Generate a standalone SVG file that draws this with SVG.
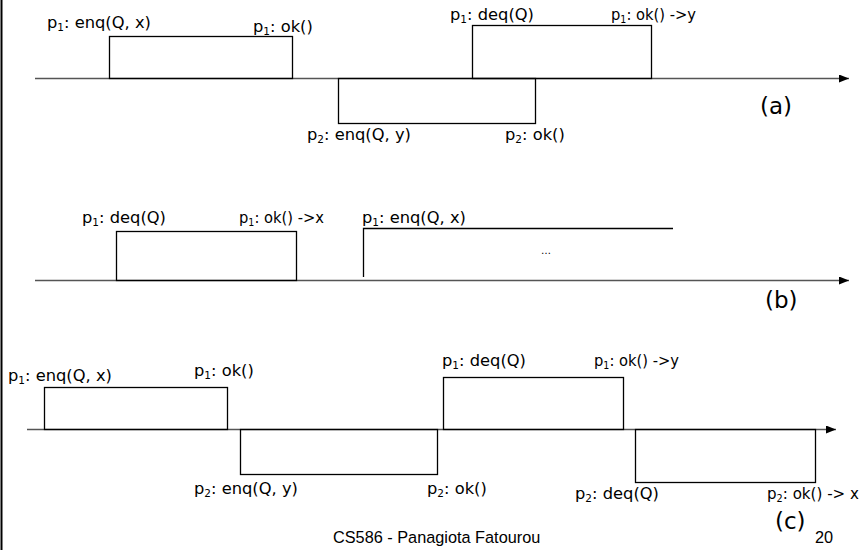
<svg xmlns="http://www.w3.org/2000/svg" width="864" height="550" viewBox="0 0 864 550">
<style>
.lbl{font-family:"DejaVu Sans","Noto Sans",sans-serif;font-size:16.3px;fill:#000}
.sub{font-size:10.5px}
.tag{font-family:"DejaVu Sans","Noto Sans",sans-serif;font-size:23px;fill:#000}
.foot{font-family:"Liberation Sans",Arial,sans-serif;font-size:16.3px;fill:#000}
.box{fill:none;stroke:#000;stroke-width:1.3}
.axis{stroke:#555;stroke-width:1.6;fill:none}
</style>
<defs>
<marker id="arr" viewBox="0 0 10 8" refX="10" refY="4" markerWidth="10" markerHeight="8" markerUnits="userSpaceOnUse" orient="auto">
<path d="M0,0 L10,4 L0,8 Z" fill="#000"/>
</marker>
</defs>
<rect x="0" y="0" width="864" height="550" fill="#fff"/>
<line x1="1.5" y1="0" x2="1.5" y2="550" stroke="#000" stroke-width="2"/>
<g id="connectors">
<line class="axis" x1="35" y1="78.5" x2="849" y2="78.5" marker-end="url(#arr)"/>
<line class="axis" x1="35" y1="280.5" x2="849" y2="280.5" marker-end="url(#arr)"/>
<line class="axis" x1="27" y1="429.5" x2="836" y2="429.5" marker-end="url(#arr)"/>
</g>
<g id="a">
<g id="a-box1"><rect class="box" x="109.5" y="36.5" width="183" height="42"/>
<text class="lbl" x="47" y="28">p<tspan class="sub" dy="3">1</tspan><tspan dy="-3">: enq(Q, x)</tspan></text>
<text class="lbl" x="253" y="32">p<tspan class="sub" dy="3">1</tspan><tspan dy="-3">: ok()</tspan></text></g>
<g id="a-box2"><rect class="box" x="338.5" y="78.5" width="197" height="45"/>
<text class="lbl" x="307" y="140">p<tspan class="sub" dy="3">2</tspan><tspan dy="-3">: enq(Q, y)</tspan></text>
<text class="lbl" x="505" y="140">p<tspan class="sub" dy="3">2</tspan><tspan dy="-3">: ok()</tspan></text></g>
<g id="a-box3"><rect class="box" x="472.5" y="25.5" width="179" height="53"/>
<text class="lbl" x="450" y="20">p<tspan class="sub" dy="3">1</tspan><tspan dy="-3">: deq(Q)</tspan></text>
<text class="lbl" x="611" y="20" textLength="85" lengthAdjust="spacingAndGlyphs">p<tspan class="sub" dy="3">1</tspan><tspan dy="-3">: ok() -&gt;y</tspan></text></g>
<text class="tag" x="760" y="114">(a)</text>
</g>
<g id="b">
<g id="b-box1"><rect class="box" x="116.5" y="231.5" width="180" height="49"/>
<text class="lbl" x="82" y="223">p<tspan class="sub" dy="3">1</tspan><tspan dy="-3">: deq(Q)</tspan></text>
<text class="lbl" x="239" y="223" textLength="85" lengthAdjust="spacingAndGlyphs">p<tspan class="sub" dy="3">1</tspan><tspan dy="-3">: ok() -&gt;x</tspan></text></g>
<g id="b-box2"><path class="box" d="M363.5,277 V228.5 H673"/>
<text class="lbl" x="362" y="223">p<tspan class="sub" dy="3">1</tspan><tspan dy="-3">: enq(Q, x)</tspan></text>
<text class="lbl" x="541" y="254" style="font-size:10px">…</text></g>
<text class="tag" x="765" y="308">(b)</text>
</g>
<g id="c">
<g id="c-box1"><rect class="box" x="44.5" y="387.5" width="183" height="42"/>
<text class="lbl" x="8" y="381">p<tspan class="sub" dy="3">1</tspan><tspan dy="-3">: enq(Q, x)</tspan></text>
<text class="lbl" x="194" y="376">p<tspan class="sub" dy="3">1</tspan><tspan dy="-3">: ok()</tspan></text></g>
<g id="c-box2"><rect class="box" x="240.5" y="429.5" width="197" height="45"/>
<text class="lbl" x="194" y="494">p<tspan class="sub" dy="3">2</tspan><tspan dy="-3">: enq(Q, y)</tspan></text>
<text class="lbl" x="427" y="494">p<tspan class="sub" dy="3">2</tspan><tspan dy="-3">: ok()</tspan></text></g>
<g id="c-box3"><rect class="box" x="443.5" y="377.5" width="180" height="52"/>
<text class="lbl" x="442" y="366">p<tspan class="sub" dy="3">1</tspan><tspan dy="-3">: deq(Q)</tspan></text>
<text class="lbl" x="594" y="366" textLength="85" lengthAdjust="spacingAndGlyphs">p<tspan class="sub" dy="3">1</tspan><tspan dy="-3">: ok() -&gt;y</tspan></text></g>
<g id="c-box4"><rect class="box" x="635.5" y="429.5" width="180" height="53"/>
<text class="lbl" x="575" y="499">p<tspan class="sub" dy="3">2</tspan><tspan dy="-3">: deq(Q)</tspan></text>
<text class="lbl" x="767" y="499" textLength="92" lengthAdjust="spacingAndGlyphs">p<tspan class="sub" dy="3">2</tspan><tspan dy="-3">: ok() -&gt; x</tspan></text></g>
<text class="tag" x="775" y="529">(c)</text>
</g>
<text class="foot" x="333" y="543">CS586 - Panagiota Fatourou</text>
<text class="foot" x="815" y="543">20</text>
</svg>
